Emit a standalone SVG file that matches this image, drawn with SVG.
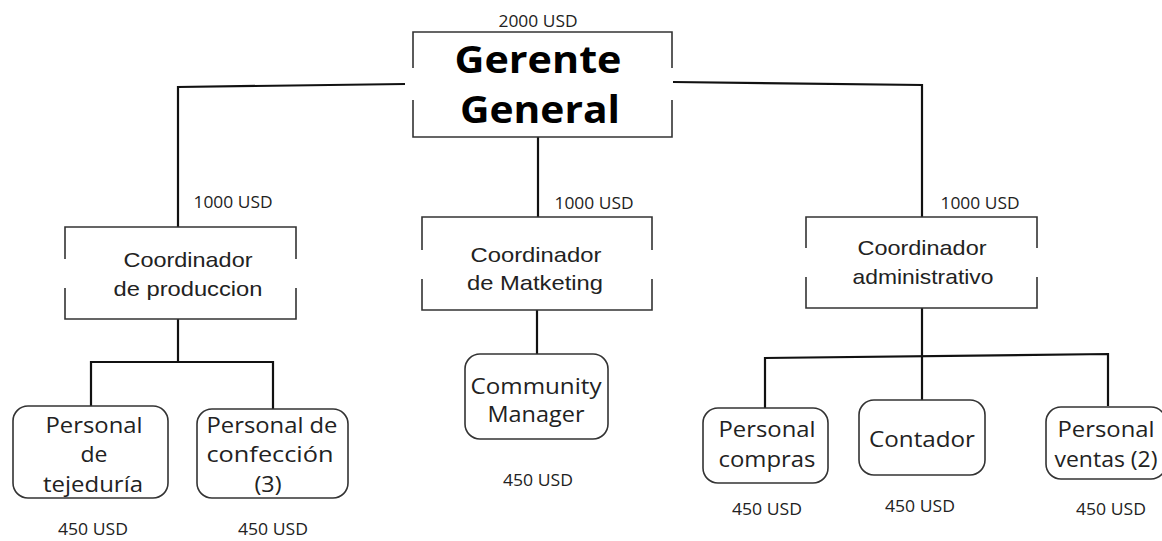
<svg xmlns="http://www.w3.org/2000/svg" width="1162" height="541" viewBox="0 0 1162 541">
<style>
.bg{fill:#fff}
.side{fill:none;stroke:#333;stroke-width:1.6}
.rbox{fill:#fff;stroke:#333;stroke-width:1.6}
.con{fill:none;stroke:#111;stroke-width:2.2}
.usd{font-family:"Open Sans",sans-serif;font-size:16px;fill:#222;text-anchor:middle}
.big{font-family:"Open Sans",sans-serif;font-weight:bold;font-size:37px;fill:#000;text-anchor:middle}
.coord{font-family:"Liberation Sans",Arial,sans-serif;font-size:21px;fill:#222;text-anchor:middle}
.staff{font-family:"Open Sans",sans-serif;font-size:22px;fill:#222;text-anchor:middle}
</style>
<rect class="bg" x="0" y="0" width="1162" height="541"/>
<g id="connectors">
<path class="con" d="M405 84 L178 87 L178 227"/>
<path class="con" d="M673 82 L922 85 L922 217"/>
<path class="con" d="M538 137 L538 217"/>
<path class="con" d="M178 319 L178 362"/>
<path class="con" d="M91 406 L91 362 L273 362 L273 409"/>
<path class="con" d="M537 310 L537 354"/>
<path class="con" d="M922 308 L922 400"/>
<path class="con" d="M765 408 L765 358 L1108 354 L1108 406"/>
</g>
<g id="gerente">
<text class="usd" x="538" y="27" textLength="79" lengthAdjust="spacingAndGlyphs">2000 USD</text>
<path class="side" d="M413 68 L413 32 L672 32 L672 68 M413 100 L413 137 L672 137 L672 100"/>
<text class="big" x="538" y="73" textLength="167" lengthAdjust="spacingAndGlyphs">Gerente</text>
<text class="big" x="540" y="123" textLength="160" lengthAdjust="spacingAndGlyphs">General</text>
</g>
<g id="coord-produccion">
<text class="usd" x="233" y="208" textLength="79" lengthAdjust="spacingAndGlyphs">1000 USD</text>
<path class="side" d="M65 259 L65 227 L296 227 L296 259 M65 288 L65 319 L296 319 L296 288"/>
<text class="coord" x="188" y="267" textLength="129" lengthAdjust="spacingAndGlyphs">Coordinador</text>
<text class="coord" x="188" y="296" textLength="149" lengthAdjust="spacingAndGlyphs">de produccion</text>
</g>
<g id="coord-marketing">
<text class="usd" x="594" y="209" textLength="79" lengthAdjust="spacingAndGlyphs">1000 USD</text>
<path class="side" d="M422 250 L422 217 L652 217 L652 250 M422 279 L422 310 L652 310 L652 279"/>
<text class="coord" x="536" y="262" textLength="131" lengthAdjust="spacingAndGlyphs">Coordinador</text>
<text class="coord" x="535" y="290" textLength="136" lengthAdjust="spacingAndGlyphs">de Matketing</text>
</g>
<g id="coord-administrativo">
<text class="usd" x="980" y="209" textLength="79" lengthAdjust="spacingAndGlyphs">1000 USD</text>
<path class="side" d="M806 248 L806 217 L1037 217 L1037 248 M806 277 L806 308 L1037 308 L1037 277"/>
<text class="coord" x="922" y="255" textLength="129" lengthAdjust="spacingAndGlyphs">Coordinador</text>
<text class="coord" x="923" y="284" textLength="141" lengthAdjust="spacingAndGlyphs">administrativo</text>
</g>
<g id="tejeduria">
<rect class="rbox" x="13" y="406" width="155" height="92" rx="15"/>
<text class="staff" x="94" y="433" textLength="97" lengthAdjust="spacingAndGlyphs">Personal</text>
<text class="staff" x="94" y="462" textLength="27" lengthAdjust="spacingAndGlyphs">de</text>
<text class="staff" x="93" y="492" textLength="100" lengthAdjust="spacingAndGlyphs">tejeduría</text>
<text class="usd" x="93" y="535" textLength="70" lengthAdjust="spacingAndGlyphs">450 USD</text>
</g>
<g id="confeccion">
<rect class="rbox" x="197" y="409" width="151" height="89" rx="15"/>
<text class="staff" x="272" y="433" textLength="131" lengthAdjust="spacingAndGlyphs">Personal de</text>
<text class="staff" x="270" y="462" textLength="127" lengthAdjust="spacingAndGlyphs">confección</text>
<text class="staff" x="268" y="492" textLength="27" lengthAdjust="spacingAndGlyphs">(3)</text>
<text class="usd" x="273" y="535" textLength="70" lengthAdjust="spacingAndGlyphs">450 USD</text>
</g>
<g id="community">
<rect class="rbox" x="465" y="354" width="143" height="85" rx="15"/>
<text class="staff" x="536" y="394" textLength="131" lengthAdjust="spacingAndGlyphs">Community</text>
<text class="staff" x="536" y="422" textLength="97" lengthAdjust="spacingAndGlyphs">Manager</text>
<text class="usd" x="538" y="486" textLength="70" lengthAdjust="spacingAndGlyphs">450 USD</text>
</g>
<g id="compras">
<rect class="rbox" x="703" y="408" width="125" height="75" rx="15"/>
<text class="staff" x="767" y="437" textLength="97" lengthAdjust="spacingAndGlyphs">Personal</text>
<text class="staff" x="767" y="467" textLength="97" lengthAdjust="spacingAndGlyphs">compras</text>
<text class="usd" x="767" y="515" textLength="70" lengthAdjust="spacingAndGlyphs">450 USD</text>
</g>
<g id="contador">
<rect class="rbox" x="859" y="400" width="126" height="75" rx="15"/>
<text class="staff" x="922" y="447" textLength="106" lengthAdjust="spacingAndGlyphs">Contador</text>
<text class="usd" x="920" y="512" textLength="70" lengthAdjust="spacingAndGlyphs">450 USD</text>
</g>
<g id="ventas">
<rect class="rbox" x="1046" y="407" width="120" height="72" rx="15"/>
<text class="staff" x="1106" y="437" textLength="97" lengthAdjust="spacingAndGlyphs">Personal</text>
<text class="staff" x="1106" y="467" textLength="103" lengthAdjust="spacingAndGlyphs">ventas (2)</text>
<text class="usd" x="1111" y="515" textLength="70" lengthAdjust="spacingAndGlyphs">450 USD</text>
</g>
</svg>
